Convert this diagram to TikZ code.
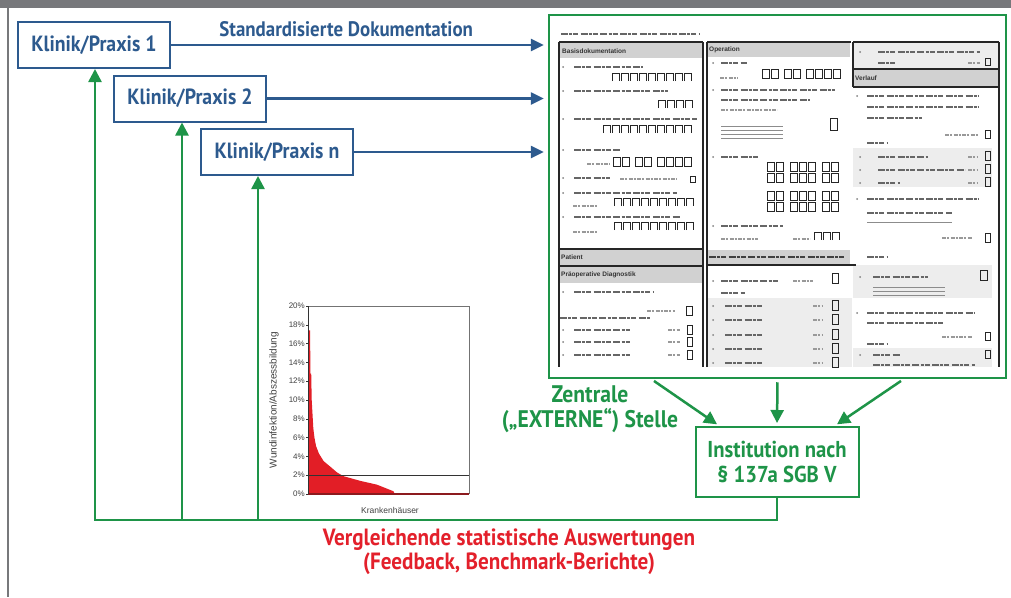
\documentclass[tikz,border=0pt]{standalone}
\usepackage{fontspec}
\setmainfont{PT Sans}[FakeStretch=0.9]
\setsansfont{Liberation Sans}
\usetikzlibrary{arrows.meta}
\definecolor{kblue}{RGB}{45,90,142}
\definecolor{kgreen}{RGB}{30,148,72}
\definecolor{kred}{RGB}{227,32,43}
\definecolor{framegray}{RGB}{119,120,123}
\definecolor{chartred}{RGB}{226,30,38}
\definecolor{chartdark}{RGB}{140,26,30}

\tikzset{
  praxis/.style={draw=kblue, line width=2pt, text=kblue, font=\bfseries\fontsize{22}{25}\selectfont,
    minimum width=152pt, minimum height=46pt, inner sep=0pt},
  institut/.style={draw=kgreen, line width=2pt, text=kgreen, font=\bfseries\fontsize{23}{25}\selectfont,
    minimum width=163pt, minimum height=70pt, inner sep=0pt, align=center},
  formframe/.style={draw=kgreen, line width=2.5pt, minimum width=457pt, minimum height=363pt, inner sep=0pt},
  doku/.style={kblue, line width=2.5pt, -{Triangle[length=13pt,width=12pt]}},
  rueck/.style={kgreen, line width=2.5pt, -{Triangle[length=13pt,width=13pt]}},
  greentext/.style={text=kgreen, font=\bfseries\fontsize{24}{25}\selectfont, align=center},
  redtext/.style={text=kred, font=\bfseries\fontsize{23.5}{24}\selectfont, align=center},
  % form pieces
  fline/.style={black!85, line width=1.2pt},
  fhead/.style={fill=black!18},
  fshade/.style={fill=black!7},
  fhtext/.style={anchor=west, inner sep=0pt, text=black!80, font=\sffamily\bfseries\fontsize{6.5}{7}\selectfont},
  ftxt/.style={black!60, line width=2.2pt, dash pattern=on 7pt off 1.2pt on 3pt off 1pt on 5pt off 2.5pt},
  fsmall/.style={black!40, line width=1.3pt, dash pattern=on 4pt off 1pt on 2pt off 1.5pt},
  fvsmall/.style={black!45, line width=0.9pt},
  fbox/.style={black!85, line width=0.9pt},
  pics/comb/.style={code={\foreach \i in {1,...,#1} \draw[fbox] (\i*9-8,8) -- (\i*9-8,0) -- (\i*9-1,0) -- (\i*9-1,8);}},
  pics/dbox/.style={code={\foreach \i in {1,...,#1} \draw[fbox] (\i*9-9,0) rectangle ++(7,9);}},
  ticklbl/.style={anchor=east, inner sep=0pt, text=black!75, font=\sffamily\fontsize{8}{9}\selectfont},
  chartlbl/.style={inner sep=0pt, text=black!75, font=\sffamily\fontsize{8.5}{9}\selectfont}
}

\begin{document}
\begin{tikzpicture}[x=1pt, y=-1pt]
  \useasboundingbox (0,0) rectangle (1011,597);
  \fill[framegray] (0,0) rectangle (1011,8);
  \fill[framegray] (7,0) rectangle (9,597);

  % Kliniken
  \node[praxis] (k1) at (94,45) {Klinik/Praxis 1};
  \node[praxis] (k2) at (190,98.5) {Klinik/Praxis 2};
  \node[praxis] (kn) at (277,152) {Klinik/Praxis n};

  % Dokumentationsbogen
  \node[formframe] (form) at (777.5,196.5) {};

  \draw[doku, shorten >=4pt] (k1.east) -- (k1.east -| form.west)
    node[pos=0.465, above=4pt, text=kblue, font=\bfseries\fontsize{21}{24}\selectfont] (doklbl) {Standardisierte Dokumentation};
  \draw[doku, shorten >=4pt] (k2.east) -- (k2.east -| form.west);
  \draw[doku, shorten >=4pt] (kn.east) -- (kn.east -| form.west);

  \begin{scope}
    \clip (551,17) rectangle (1004,367);
    \draw[ftxt] (561,34) -- (700,34);
    % gray bars
    \fill[fhead] (559,42) rectangle (703,58);
    \fill[fhead] (707,42) rectangle (850,57);
    \fill[fshade] (853,42) rectangle (999,69);
    \fill[fhead] (853,69) rectangle (999,87);
    \fill[fhead] (559,249) rectangle (703,266);
    \fill[fhead] (559,266) rectangle (703,283);
    \fill[fhead] (707,250) rectangle (850,265);
    \fill[fshade] (707,298) rectangle (852,367);
    \fill[fshade] (853,148) rectangle (992,187);
    \fill[fshade] (853,265) rectangle (992,298);
    \fill[fshade] (853,348) rectangle (992,367);
    % rules
    \draw[fline] (559,42) -- (703,42) (559,42) -- (559,367) (703,42) -- (703,367);
    \draw[fline, line width=2pt] (707,42) -- (851,42) (707,42) -- (707,367);
    \draw[fline] (853,42) -- (999,42) (853,42) -- (853,87) (999,42) -- (999,367);
    \draw[fline] (853,69) -- (999,69) (853,87) -- (999,87);
    \draw[fline, line width=1.8pt] (559,249) -- (703,249);
    \draw[fline] (559,266) -- (703,266);
    \draw[fline, line width=1.8pt] (707,265) -- (856,265);
    % headers
    \node[fhtext] (h1) at (562,51) {Basisdokumentation};
    \node[fhtext] (h2) at (709,50) {Operation};
    \node[fhtext] (h3) at (855,78) {Verlauf};
    \node[fhtext] (h4) at (561,257) {Patient};
    \node[fhtext] (h5) at (561,275) {Präoperative Diagnostik};
    \draw[ftxt, black!75] (709,257) -- (846,257);

    % Basisdokumentation
    \foreach \y/\l in {67/643, 91/668, 119/697, 150/620, 178/610, 193/677, 217/680} {
      \fill[black!50] (563,\y) circle (1pt);
      \draw[ftxt] (574,\y) -- (\l,\y);
    }
    \pic at (611,73) {comb=9};
    \pic at (657,100) {comb=4};
    \pic at (602,125) {comb=10};
    \draw[fsmall] (587,164) -- (610,164);
    \pic at (613,157) {dbox=2};
    \pic at (635,157) {dbox=2};
    \pic at (657,157) {dbox=4};
    \draw[fsmall] (620,179) -- (677,179);
    \draw[fbox] (690,176) rectangle (695,182);
    \pic at (613,198) {comb=9};
    \draw[fsmall] (573,206) -- (597,206);
    \pic at (613,222) {comb=9};
    \draw[fsmall] (573,232) -- (597,232);
    % Praeoperative Diagnostik
    \fill[black!50] (563,292) circle (1pt);
    \draw[ftxt] (574,292) -- (653,292);
    \draw[fsmall] (647,311) -- (675,311);
    \draw[fbox] (686,306) rectangle (692,315);
    \draw[ftxt] (560,318) -- (650,318);
    \foreach \y in {330,342,355} {
      \fill[black!50] (563,\y) circle (1pt);
      \draw[ftxt] (574,\y) -- (630,\y);
      \draw[fsmall] (668,\y) -- (680,\y);
      \draw[fbox] (687,\y-5) rectangle (692,\y+4);
    }

    % Operation
    \fill[black!50] (713,63) circle (1pt);
    \draw[ftxt] (721,63) -- (747,63);
    \draw[fsmall] (720,78) -- (738,78);
    \pic at (762,69) {dbox=2};
    \pic at (784,69) {dbox=2};
    \pic at (806,69) {dbox=4};
    \fill[black!50] (713,90) circle (1pt);
    \draw[ftxt] (721,90) -- (835,90);
    \draw[ftxt] (721,100) -- (810,100);
    \draw[fsmall] (721,110) -- (777,110);
    \draw[fbox] (830,118) rectangle (837,130);
    \foreach \y in {126,130,134,138} \draw[fvsmall] (721,\y) -- (783,\y);
    \fill[black!50] (713,157) circle (1pt);
    \draw[ftxt] (721,157) -- (760,157);
    \foreach \y in {162,173,191,202} {
      \pic at (767,\y) {dbox=2};
      \pic at (790,\y) {dbox=3};
      \pic at (822,\y) {dbox=2};
    }
    \fill[black!50] (713,226) circle (1pt);
    \draw[ftxt] (721,226) -- (783,226);
    \draw[fsmall] (721,239) -- (758,239) (793,239) -- (810,239);
    \pic at (813,232) {comb=3};
    % intraoperativ
    \fill[black!50] (713,281) circle (1pt);
    \draw[ftxt] (721,281) -- (780,281);
    \draw[fsmall] (793,281) -- (813,281);
    \draw[fbox] (832,273) rectangle (838,283);
    \draw[ftxt] (721,293) -- (745,293);
    \foreach \y in {306,320,335,349,363} {
      \fill[black!50] (713,\y) circle (1pt);
      \draw[ftxt] (725,\y) -- (763,\y);
      \draw[fsmall] (813,\y) -- (823,\y);
      \draw[fbox] (832,\y-6) rectangle (838,\y+4);
    }

    % Verlauf
    \fill[black!50] (860,52) circle (1pt);
    \draw[ftxt] (878,52) -- (980,52);
    \draw[ftxt] (878,63) -- (895,63);
    \draw[fsmall] (968,63) -- (980,63);
    \draw[fbox] (985,58) rectangle (990,65);
    \fill[black!50] (857,96) circle (1pt);
    \draw[ftxt] (867,96) -- (978,96);
    \draw[ftxt] (867,107) -- (978,107);
    \draw[ftxt] (867,118) -- (922,118);
    \draw[fsmall] (945,135) -- (978,135);
    \draw[fbox] (985,130) rectangle (990,138);
    \draw[ftxt] (867,143) -- (887,143);
    \foreach \y/\l in {157/928, 170/965, 183/900} {
      \fill[black!50] (860,\y) circle (1pt);
      \draw[ftxt] (878,\y) -- (\l,\y);
      \draw[fsmall] (968,\y) -- (978,\y);
      \draw[fbox] (985,\y-6) rectangle (990,\y+3);
    }
    \fill[black!50] (857,199) circle (1pt);
    \draw[ftxt] (867,199) -- (978,199);
    \draw[ftxt] (867,213) -- (952,213);
    \draw[fvsmall] (867,222) -- (952,222);
    \draw[fsmall] (942,238) -- (972,238);
    \draw[fbox] (985,233) rectangle (990,242);
    \draw[ftxt] (867,257) -- (887,257);
    \fill[black!50] (860,277) circle (1pt);
    \draw[ftxt] (873,277) -- (928,277);
    \foreach \y in {287,291,295} \draw[fvsmall] (873,\y) -- (945,\y);
    \draw[fbox] (980,270) rectangle (987,280);
    \fill[black!50] (857,313) circle (1pt);
    \draw[ftxt] (867,313) -- (975,313);
    \draw[ftxt] (867,323) -- (945,323);
    \draw[fsmall] (942,337) -- (972,337);
    \draw[fbox] (985,332) rectangle (990,340);
    \draw[ftxt] (867,344) -- (887,344);
    \fill[black!50] (860,355) circle (1pt);
    \draw[ftxt] (873,355) -- (900,355);
    \draw[fbox] (985,350) rectangle (990,358);
    \draw[ftxt] (873,365) -- (975,365);
  \end{scope}

  % Institution
  \node[institut] (inst) at (777,462) {Institution nach\\§ 137a SGB V};
  \node[greentext] (zentrale) at (590,409) {Zentrale\\(„EXTERNE“) Stelle};

  \draw[rueck, shorten <=3pt, shorten >=3pt] ([xshift=-126pt]form.south) -- ([xshift=25pt]inst.north west);
  \draw[rueck, shorten <=3pt, shorten >=3pt] (form.south) -- (inst.north);
  \draw[rueck, shorten <=3pt, shorten >=3pt] ([xshift=126pt]form.south) -- ([xshift=-25pt]inst.north east);

  % Rueckmeldung
  \coordinate (fb1) at (95,520);
  \coordinate (fb2) at (182,520);
  \coordinate (fb3) at (258,520);
  \draw[rueck] (inst.south) |- (fb1) -- (fb1 |- k1.south);
  \draw[rueck] (fb2) -- (fb2 |- k2.south);
  \draw[rueck] (fb3) -- (fb3 |- kn.south);
  \node[redtext] (auswertung) at (509,552) {Vergleichende statistische Auswertungen\\(Feedback, Benchmark-Berichte)};

  % Diagramm
  \begin{scope}[shift={(308,494)}, x=1.61pt, y=9.4pt]
    \fill[chartred] (0,0) -- (0,17.4) -- (1.3,17.4) -- (1.5,12.8) -- (2,12.8) -- (2.3,10) -- (2.8,8.5)
      -- (3.3,7) -- (4,6) -- (5,5.1) -- (6.8,4.3) -- (9.7,3.5) -- (13.9,2.9) -- (18,2.3) -- (22,1.9)
      -- (32.4,1.4) -- (42.7,1.0) -- (53,0.3) -- (54,0) -- cycle;
    \draw[black!55, line width=0.8pt] (0,20) -- (100,20) -- (100,0);
    \draw[black!80, line width=0.8pt] (0,2) -- (100,2);
    \draw[chartdark, line width=1.5pt] (0,0) -- (100,0);
    \draw[black!80, line width=0.8pt] (0,0) -- (0,20);
    \foreach \p in {0,2,...,20} {
      \draw[black!80, line width=0.6pt] (0,\p) -- ++(-2.5pt,0pt);
      \node[ticklbl] (t\p) at ([xshift=-3pt]0,\p) {\p\%};
    }
  \end{scope}
  \node[chartlbl, font=\sffamily\fontsize{10}{11}\selectfont, rotate=90] (ylab) at (274,400) {Wundinfektion/Abszessbildung};
  \node[chartlbl] (xlab) at (390,510) {Krankenhäuser};
\end{tikzpicture}
\end{document}
